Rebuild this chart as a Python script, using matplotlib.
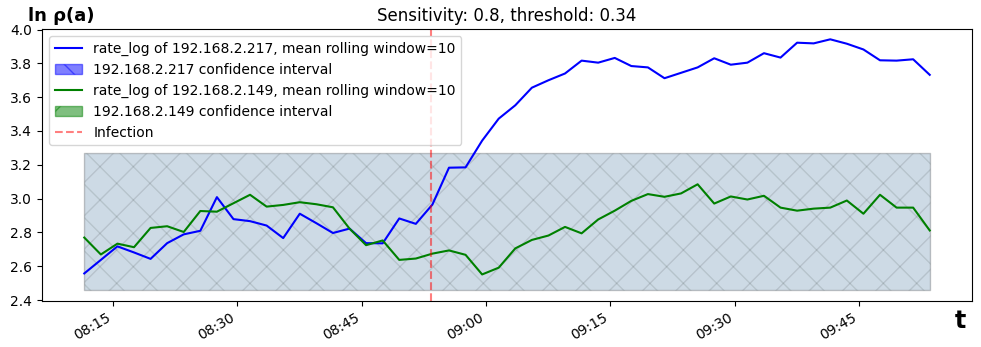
import matplotlib
matplotlib.use("Agg")
import matplotlib.pyplot as plt
import matplotlib.dates as mdates
from matplotlib.patches import Patch
from matplotlib.lines import Line2D
import numpy as np
import pandas as pd

# ---- data ----
start_time = "2023-01-01 08:11:32"
step_minutes = 2
infection_time = "2023-01-01 08:53:20"

ip_a = "192.168.2.217"
ip_b = "192.168.2.149"

rate_a = [2.558, 2.638, 2.718, 2.682, 2.644, 2.737, 2.789, 2.810, 3.009, 2.879,
          2.867, 2.841, 2.767, 2.911, 2.855, 2.797, 2.823, 2.737, 2.736, 2.883,
          2.851, 2.965, 3.183, 3.185, 3.343, 3.473, 3.552, 3.656, 3.700, 3.740,
          3.816, 3.804, 3.832, 3.784, 3.776, 3.712, 3.744, 3.776, 3.830, 3.792,
          3.804, 3.860, 3.834, 3.922, 3.918, 3.942, 3.916, 3.882, 3.818, 3.816,
          3.824, 3.732]
rate_b = [2.770, 2.670, 2.734, 2.713, 2.827, 2.837, 2.803, 2.927, 2.923, 2.973,
          3.023, 2.953, 2.963, 2.979, 2.967, 2.949, 2.823, 2.725, 2.753, 2.638,
          2.646, 2.675, 2.694, 2.668, 2.552, 2.592, 2.706, 2.756, 2.782, 2.833,
          2.795, 2.877, 2.929, 2.987, 3.027, 3.011, 3.031, 3.085, 2.971, 3.013,
          2.995, 3.017, 2.947, 2.929, 2.941, 2.947, 2.989, 2.911, 3.023, 2.947,
          2.947, 2.812]

ci_a_lower, ci_a_upper = 2.458, 3.268
ci_b_lower, ci_b_upper = 2.458, 3.268

title = "Sensitivity: 0.8, threshold: 0.34"
ylabel = "ln ρ(a)"
xlabel = "t"

# ---- plot ----
times = pd.date_range(start_time, periods=len(rate_a), freq=f"{step_minutes}min")

fig = plt.figure(figsize=(9.81, 3.47), dpi=100)
ax = fig.add_axes([42/981, 1-301/347, 930/981, 272/347])

ax.fill_between(times, [ci_a_lower]*len(times), [ci_a_upper]*len(times),
                facecolor=(0, 0, 1, 0.1), edgecolor=(0, 0, 0, 0.11), hatch='\\', linewidth=1)
ax.fill_between(times, [ci_b_lower]*len(times), [ci_b_upper]*len(times),
                facecolor=(0, 0.5, 0, 0.1), edgecolor=(0, 0, 0, 0.11), hatch='/', linewidth=1)

ax.plot(times, rate_a, color='blue', lw=1.5)
ax.plot(times, rate_b, color='green', lw=1.5)
ax.axvline(pd.Timestamp(infection_time), color='red', ls='--', alpha=0.5, lw=1.5)

ax.set_ylim(2.395, 4.003)
ax.xaxis.set_major_locator(mdates.MinuteLocator(byminute=[0, 15, 30, 45]))
ax.xaxis.set_major_formatter(mdates.DateFormatter('%H:%M'))
for lab in ax.get_xticklabels():
    lab.set_rotation(30)
    lab.set_ha('right')

ax.set_title(title, fontsize=12)
ax.set_ylabel(ylabel, rotation=0, fontsize=13, fontweight='bold')
ax.yaxis.set_label_coords(0.021, 1.015)
ax.yaxis.label.set_va('bottom')
ax.set_xlabel(xlabel, fontsize=17, fontweight='bold')
ax.xaxis.set_label_coords(0.987, -0.03)
ax.xaxis.label.set_va('top')

handles = [
    Line2D([], [], color='blue', lw=1.5),
    Patch(facecolor=(0, 0, 1, 0.5), edgecolor=(0, 0, 1, 0.5), hatch='\\'),
    Line2D([], [], color='green', lw=1.5),
    Patch(facecolor=(0, 0.5, 0, 0.5), edgecolor=(0, 0.5, 0, 0.5), hatch='/'),
    Line2D([], [], color='red', ls='--', alpha=0.5, lw=1.5),
]
labels = [
    f"rate_log of {ip_a}, mean rolling window=10",
    f"{ip_a} confidence interval",
    f"rate_log of {ip_b}, mean rolling window=10",
    f"{ip_b} confidence interval",
    "Infection",
]
ax.legend(handles, labels, loc='upper left')

fig.savefig("out.png", dpi=100)
